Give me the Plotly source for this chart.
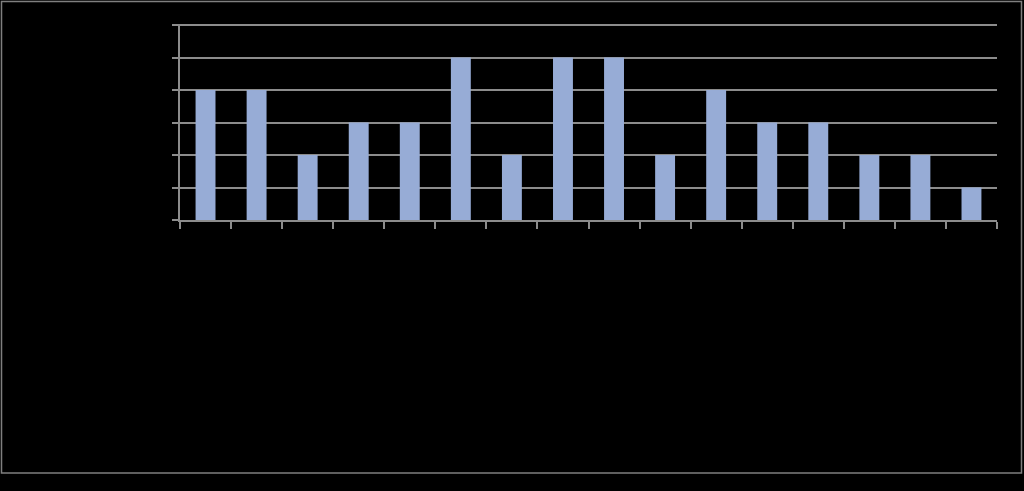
import plotly.graph_objects as go

categories = [f"C{i}" for i in range(1, 17)]
values = [4, 4, 2, 3, 3, 5, 2, 5, 5, 2, 4, 3, 3, 2, 2, 1]
y_max = 6

bar_color = "#97ACD6"
line_color = "#8C8C8C"

L, R, T, B = 180, 27, 24, 271
W, H = 1024, 491
pw, ph = W - L - R, H - T - B

fig = go.Figure(go.Bar(x=categories, y=values, marker=dict(color=bar_color, line=dict(width=0))))

def px_x(p):
    return (p - L) / pw

def px_y(p):
    return (H - B - p) / ph

fig.add_shape(type="rect", xref="paper", yref="paper",
              x0=px_x(1.5), x1=px_x(1021.5), y0=px_y(473), y1=px_y(1.5),
              line=dict(color="#7F7F7F", width=1.5), layer="below")

fig.update_layout(
    width=W, height=H,
    margin=dict(l=L, r=R, t=T, b=B, pad=0),
    paper_bgcolor="black", plot_bgcolor="black",
    bargap=0.61, showlegend=False,
    xaxis=dict(showgrid=False, showline=True, linecolor=line_color, linewidth=1.5,
               ticks="outside", tickson="boundaries", ticklen=7, tickcolor=line_color,
               tickwidth=1.5, showticklabels=False, zeroline=False),
    yaxis=dict(range=[0, y_max + 0.031], tick0=0, dtick=1, showgrid=True, gridcolor=line_color, gridwidth=1.5,
               showline=True, linecolor=line_color, linewidth=1.5,
               ticks="outside", ticklen=6, tickcolor=line_color, tickwidth=1.5,
               showticklabels=False, zeroline=False),
)

fig.write_html("out.html", config={"displayModeBar": False},
               post_script="document.body.style.margin='0';document.body.style.background='black';")
